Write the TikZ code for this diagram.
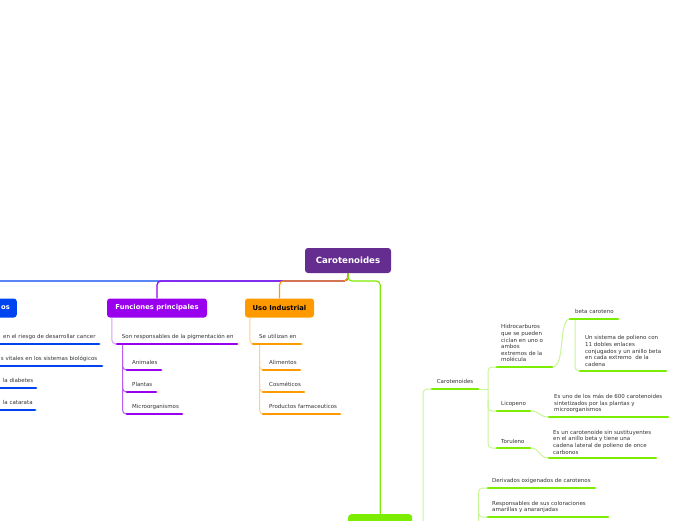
\documentclass[tikz,border=0pt]{standalone}
\usepackage{fontspec}
\setmainfont{DejaVu Sans}
\definecolor{mainpurple}{RGB}{102,45,145}
\definecolor{vpurple}{RGB}{153,0,238}
\definecolor{mpurple}{RGB}{185,90,240}
\definecolor{lpurple}{RGB}{215,160,245}
\definecolor{bblue}{RGB}{0,68,240}
\definecolor{orng}{RGB}{255,153,0}
\definecolor{lorng}{RGB}{255,208,140}
\definecolor{grn}{RGB}{124,236,0}
\definecolor{lgrn}{RGB}{200,245,150}
\definecolor{txt}{RGB}{51,51,51}
\begin{document}
\begin{tikzpicture}[x=1pt,y=-1pt,
  lf/.style={font=\fontsize{5.5}{6.6}\selectfont, text=txt, inner sep=0pt, anchor=base west},
  ml/.style={font=\fontsize{5.5}{6.6}\selectfont, text=txt, inner sep=0pt, anchor=north west, align=left},
  ul/.style={line width=2.8pt, line cap=round},
  cn/.style={line width=1pt, rounded corners=4pt},
  bb/.style={line width=1.2pt, rounded corners=4pt},
  topic/.style={rounded corners=3pt, font=\bfseries\fontsize{6.8}{8}\selectfont, minimum height=19pt, inner sep=0pt},
]
\useasboundingbox (0,0) rectangle (696,520);
\clip (0,0) rectangle (696,520);

% main topics
\node[fill=mainpurple, text=white, rounded corners=3pt, minimum width=86pt, minimum height=25pt, inner sep=0pt, font=\bfseries\fontsize{8.6}{10}\selectfont] (main) at (348,260.5) {Carotenoides};
\node[topic, fill=vpurple, text=white, minimum width=100pt] (fun) at (157,308) {Funciones principales};
\node[topic, fill=orng, text=black, minimum width=69pt] (uso) at (279.5,308) {Uso Industrial};
\node[topic, fill=bblue, text=white, anchor=east, text width=52pt, align=right, inner xsep=7pt] (ben) at (17,308) {os};
\node[fill=grn, rounded corners=3pt, minimum width=64pt, minimum height=24pt, anchor=north west, inner sep=0pt] (gbox) at (348,514) {};

% backbone
\coordinate (hub) at (348,281);
\draw[bblue, bb] (main.south) -- (hub) -| (ben.north);
\draw[vpurple, bb] (main.south) -- (hub) -| (fun.north);
\draw[orng, bb] (main.south) -- (hub) -| (uso.north);
\draw[grn, bb] (main.south) -- (hub) -| (gbox.north);

% ---- blue branch (cut off on the left)
\node[lf] (b1) at (3,338.8) {en el riesgo de desarrollar cancer};
\node[lf] (b2) at (0.8,360.8) {s vitales en los sistemas biológicos};
\node[lf] (b3) at (2.7,382.5) {la diabetes};
\node[lf] (b4) at (2.7,404.2) {la catarata};
\draw[bblue, ul] (-5,344) -- (99,344);
\draw[bblue, ul] (-5,366) -- (102,366);
\draw[bblue, ul] (-5,388) -- (36,388);
\draw[bblue, ul] (-5,410) -- (35,410);

% ---- purple branch
\coordinate (p0a) at (117,344); \coordinate (p0b) at (237,344);
\coordinate (p1a) at (127,370); \coordinate (p1b) at (161,370);
\coordinate (p2a) at (127,392); \coordinate (p2b) at (156,392);
\coordinate (p3a) at (127,414); \coordinate (p3b) at (182,414);
\draw[lpurple, cn] ([xshift=5pt]fun.south west) |- (p0a);
\draw[mpurple, cn] (122.5,344) |- (p3a);
\draw[mpurple, cn] (122.5,360) |- (p1a);
\draw[mpurple, cn] (122.5,382) |- (p2a);
\draw[vpurple, ul] (p0a) -- (p0b);
\draw[vpurple, ul] (p1a) -- (p1b);
\draw[vpurple, ul] (p2a) -- (p2b);
\draw[vpurple, ul] (p3a) -- (p3b);
\node[lf] (p0) at (121.7,338.2) {Son responsables de la pigmentación en};
\node[lf] (p1) at (132,364.2) {Animales};
\node[lf] (p2) at (132,386.5) {Plantas};
\node[lf] (p3) at (132,408.2) {Microorganismos};

% ---- orange branch
\coordinate (o0a) at (253,344); \coordinate (o0b) at (301,344);
\coordinate (o1a) at (263,370); \coordinate (o1b) at (300,370);
\coordinate (o2a) at (263,392); \coordinate (o2b) at (304,392);
\coordinate (o3a) at (263,414); \coordinate (o3b) at (340,414);
\draw[lorng, cn] ([xshift=5pt]uso.south west) |- (o0a);
\draw[lorng, cn] (259.5,344) |- (o3a);
\draw[lorng, cn] (259.5,360) |- (o1a);
\draw[lorng, cn] (259.5,382) |- (o2a);
\draw[orng, ul] (o0a) -- (o0b);
\draw[orng, ul] (o1a) -- (o1b);
\draw[orng, ul] (o2a) -- (o2b);
\draw[orng, ul] (o3a) -- (o3b);
\node[lf] (o0) at (259,338.8) {Se utilizan en};
\node[lf] (o1) at (269,364.2) {Alimentos};
\node[lf] (o2) at (269,386.5) {Cosméticos};
\node[lf] (o3) at (269,408.2) {Productos farmaceuticos};

% ---- green branch
\coordinate (g0) at (423,540);
\coordinate (g1) at (478.5,540);
\coordinate (c0a) at (432,389); \coordinate (c0b) at (478,389);
\coordinate (h0a) at (497,367); \coordinate (h0b) at (552,367);
\coordinate (l0a) at (497,411); \coordinate (l0b) at (530,411);
\coordinate (t0a) at (497,448); \coordinate (t0b) at (530,448);
\coordinate (be0a) at (570,319); \coordinate (be0b) at (618,319);
\coordinate (bd0s) at (575,320);
\coordinate (bd0a) at (580,371); \coordinate (bd0b) at (666,371);
\coordinate (ld0a) at (549,417); \coordinate (ld0b) at (668,417);
\coordinate (td0a) at (549,458); \coordinate (td0b) at (656,458);
\coordinate (d0a) at (488,488); \coordinate (d0b) at (595,488);
\coordinate (r0a) at (488,517); \coordinate (r0b) at (608,517);

\draw[lgrn, cn] (g0) |- (c0a);
\draw[lgrn, cn] (c0b) -- (488,389);
\draw[lgrn, cn] (h0a) -| (488,448) -- (t0a);
\draw[lgrn, cn] (488,400) |- (l0a);
\draw[lgrn, line width=1pt] (h0b) .. controls (566,367) and (558,319) .. (be0a);
\draw[lgrn, cn] (bd0s) |- (bd0a);
\draw[lgrn, line width=1pt] (l0b) .. controls (541,411) and (538,417) .. (ld0a);
\draw[lgrn, line width=1pt] (t0b) .. controls (541,448) and (538,458) .. (td0a);
\draw[lgrn, cn] (g1) |- (d0a);
\draw[lgrn, cn] (478.5,505) |- (r0a);

\draw[grn, ul] (c0a) -- (c0b);
\draw[grn, ul] (h0a) -- (h0b);
\draw[grn, ul] (l0a) -- (l0b);
\draw[grn, ul] (t0a) -- (t0b);
\draw[grn, ul] (be0a) -- (be0b);
\draw[grn, ul] (bd0a) -- (bd0b);
\draw[grn, ul] (ld0a) -- (ld0b);
\draw[grn, ul] (td0a) -- (td0b);
\draw[grn, ul] (d0a) -- (d0b);
\draw[grn, ul] (r0a) -- (r0b);

\node[lf] (c0) at (436.7,383.2) {Carotenoides};
\node[ml] (h0) at (501,324.5) {Hidrocarburos\\que se pueden\\ciclan en uno o\\ambos\\extremos de la\\molécula};
\node[lf] (be0) at (575,313.8) {beta caroteno};
\node[ml] (bd0) at (585,335.5) {Un sistema de polieno con\\11 dobles enlaces\\conjugados y un anillo beta\\en cada extremo~ de la\\cadena};
\node[lf] (l0) at (501,405.5) {Licopeno};
\node[ml] (ld0) at (554,394) {Es uno de los más de 600 carotenoides\\sintetizados por las plantas y\\microorganismos};
\node[lf] (t0) at (501,443.5) {Toruleno};
\node[ml] (td0) at (553,430) {Es un carotenoide sin sustituyentes\\en el anillo beta y tiene una\\cadena lateral de polieno de once\\carbonos};
\node[lf] (d0) at (492,482.5) {Derivados oxigenados de carotenos};
\node[ml] (r0) at (492,501) {Responsables de sus coloraciones\\amarillas y anaranjadas};
\end{tikzpicture}
\end{document}
